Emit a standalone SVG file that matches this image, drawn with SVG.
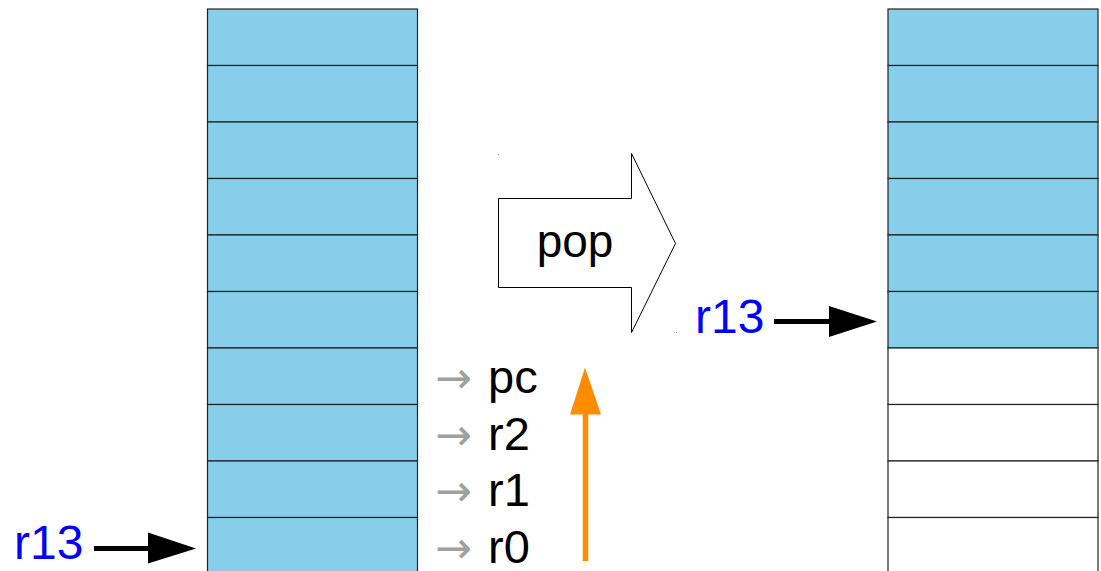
<svg xmlns="http://www.w3.org/2000/svg" width="1101" height="571" viewBox="0 0 1101 571">
  <style>
    .cell { stroke: #222; stroke-width: 1.2; }
    .full { fill: #87ceeb; }
    .empty { fill: #ffffff; }
    .reg { font-family: "Liberation Sans", Arial, sans-serif; font-size: 48px; fill: #0000ff; }
    .lbl { font-family: "Liberation Sans", Arial, sans-serif; font-size: 47px; fill: #000; }
    .op { font-family: "Liberation Sans", Arial, sans-serif; font-size: 46px; fill: #000; }
    .hint { font-family: "DejaVu Sans", sans-serif; font-size: 44px; fill: #a0a0a0; }
  </style>
  <defs>
    <g id="row-full"><rect class="cell full" x="0" y="0" width="210" height="56.5"/></g>
    <g id="row-empty"><rect class="cell empty" x="0" y="0" width="210" height="56.5"/></g>
  </defs>
  <rect width="1101" height="571" fill="#fff"/>

  <!-- stack before pop: every slot filled -->
  <g id="stack-before" transform="translate(207.5,9)">
    <use href="#row-full" y="0"/>
    <use href="#row-full" y="56.5"/>
    <use href="#row-full" y="113"/>
    <use href="#row-full" y="169.5"/>
    <use href="#row-full" y="226"/>
    <use href="#row-full" y="282.5"/>
    <use href="#row-full" y="339"/>
    <use href="#row-full" y="395.5"/>
    <use href="#row-full" y="452"/>
    <use href="#row-full" y="508.5"/>
  </g>

  <!-- stack after pop: four slots released -->
  <g id="stack-after" transform="translate(888,9)">
    <use href="#row-full" y="0"/>
    <use href="#row-full" y="56.5"/>
    <use href="#row-full" y="113"/>
    <use href="#row-full" y="169.5"/>
    <use href="#row-full" y="226"/>
    <use href="#row-full" y="282.5"/>
    <use href="#row-empty" y="339"/>
    <use href="#row-empty" y="395.5"/>
    <use href="#row-empty" y="452"/>
    <use href="#row-empty" y="508.5"/>
  </g>

  <!-- register names for the popped slots -->
  <g id="slot-labels">
    <text class="hint" x="435" y="393">→</text>
    <text class="lbl" x="488" y="393">pc</text>
    <text class="hint" x="435" y="450">→</text>
    <text class="lbl" x="488" y="450">r2</text>
    <text class="hint" x="435" y="506">→</text>
    <text class="lbl" x="488" y="506">r1</text>
    <text class="hint" x="435" y="563">→</text>
    <text class="lbl" x="488" y="563">r0</text>
  </g>

  <!-- block arrow with the operation name -->
  <g id="pop-op">
    <polygon points="498.5,198.5 631.5,198.5 631.5,153.5 675.5,243.5 631.5,332.5 631.5,287.5 498.5,287.5" fill="#fff" stroke="#000" stroke-width="1"/>
    <text class="op" x="575" y="257" text-anchor="middle">pop</text>
    <rect x="498" y="154" width="1" height="1" fill="#999"/>
    <rect x="676" y="332" width="1" height="1" fill="#999"/>
  </g>

  <!-- stack pointer labels -->
  <g id="sp-before"><text class="reg" x="14" y="559">r13</text></g>
  <g id="sp-after"><text class="reg" x="695" y="333">r13</text></g>

  <g id="connectors">
    <!-- stack pointer before -->
    <line x1="94" y1="548.5" x2="150" y2="548.5" stroke="#000" stroke-width="5"/>
    <polygon points="148,532.5 196,548.5 148,563.5" fill="#000"/>
    <!-- stack pointer after -->
    <line x1="774" y1="321.5" x2="831" y2="321.5" stroke="#000" stroke-width="5"/>
    <polygon points="829,306 877,321.5 829,337" fill="#000"/>
    <!-- pop direction -->
    <line x1="585.5" y1="561" x2="585.5" y2="410" stroke="#ff8c00" stroke-width="5.5"/>
    <polygon points="585,367.5 601,414.5 570,414.5" fill="#ff8c00"/>
  </g>
</svg>
